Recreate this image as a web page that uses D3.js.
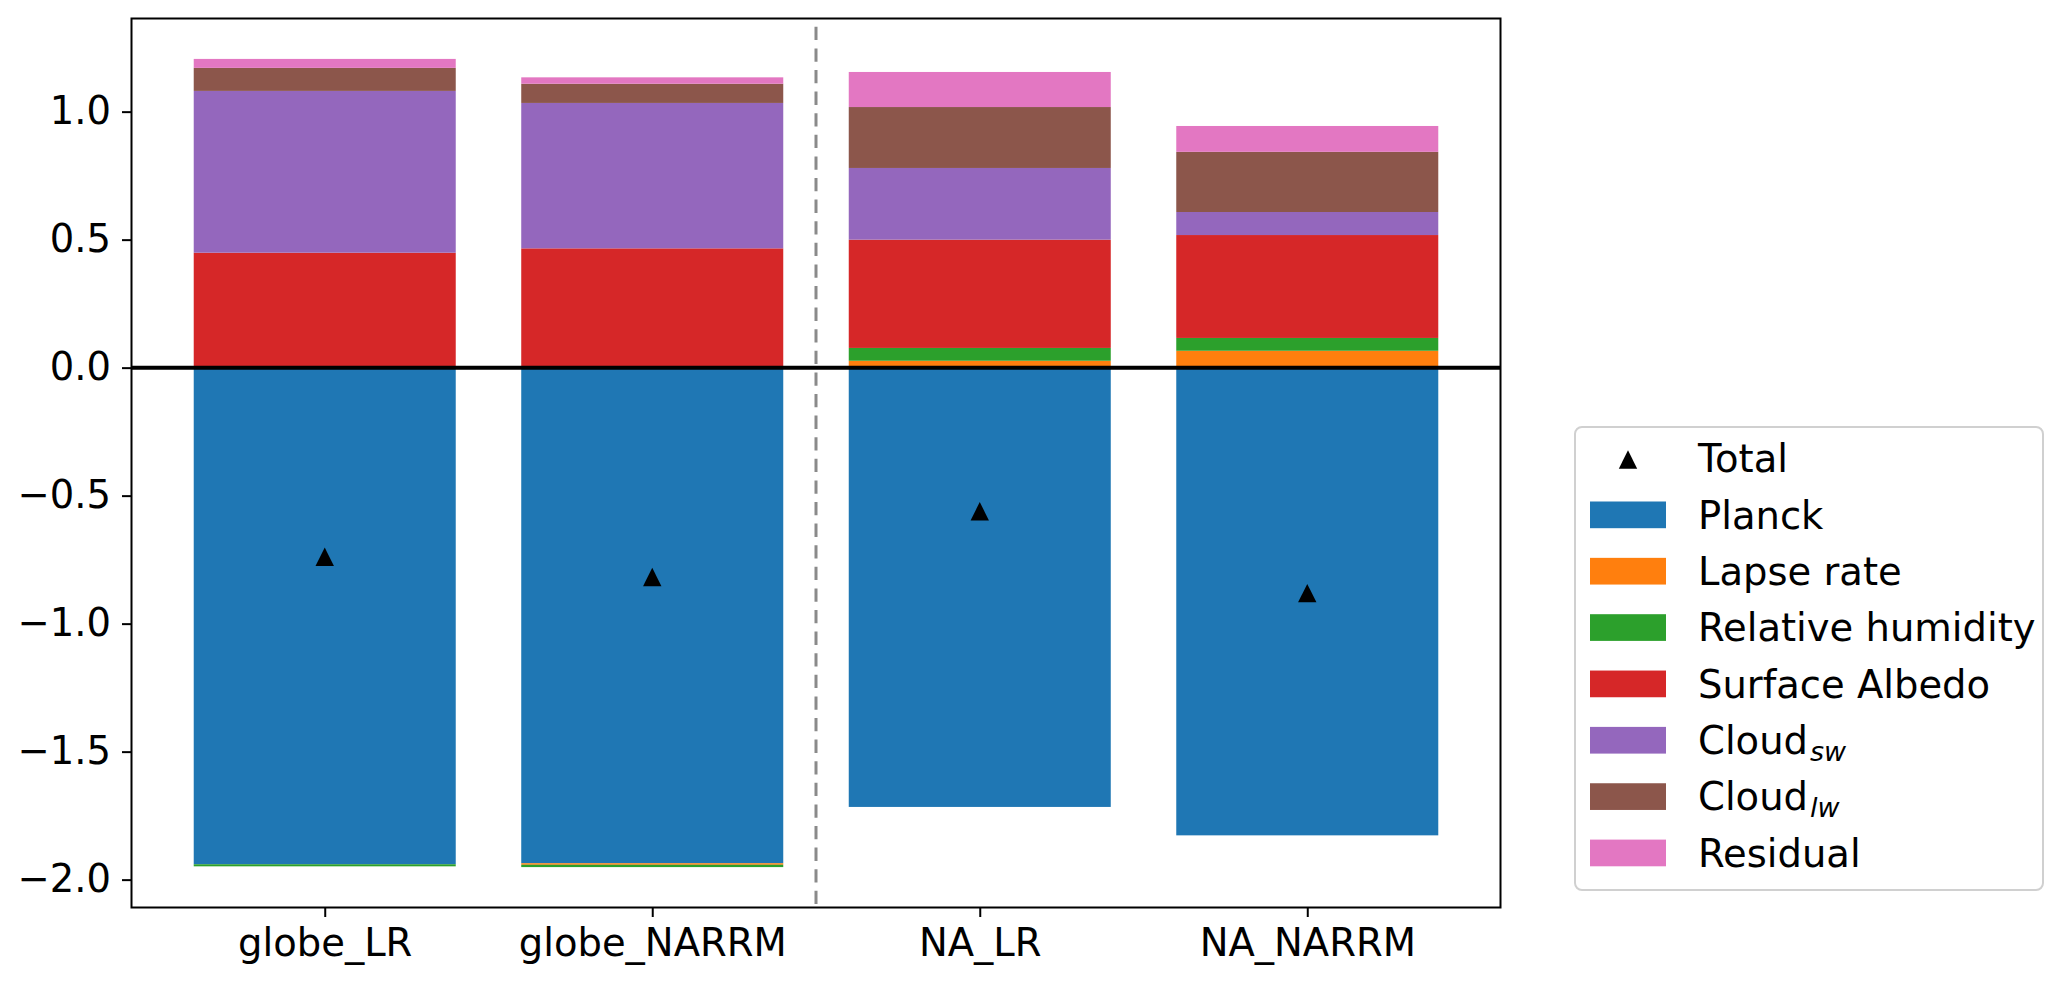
<!DOCTYPE html>
<html>
<head>
<meta charset="utf-8">
<script src="https://cdn.jsdelivr.net/npm/d3@7"></script>
<style>
  html, body { margin: 0; padding: 0; background: #fff; }
  svg { display: block; font-family: "DejaVu Sans", sans-serif; }
</style>
</head>
<body>
<svg id="chart" width="2067" height="986"></svg>
<script>
// ---------------- DATA ----------------
const categories = ["globe_LR", "globe_NARRM", "NA_LR", "NA_NARRM"];
const seriesNames = ["Planck", "Lapse rate", "Relative humidity", "Surface Albedo", "Cloud_sw", "Cloud_lw", "Residual"];
const planck        = [-1.940, -1.936, -1.716, -1.827];
const lapseRate     = [ 0.000, -0.006,  0.027,  0.066];
const relHumidity   = [-0.008, -0.009,  0.050,  0.050];
const surfaceAlbedo = [ 0.449,  0.466,  0.423,  0.402];
const cloudSW       = [ 0.632,  0.568,  0.280,  0.090];
const cloudLW       = [ 0.090,  0.075,  0.238,  0.235];
const residual      = [ 0.035,  0.025,  0.137,  0.101];
const total         = [-0.739, -0.818, -0.561, -0.881];
const yTicks = [-2.0, -1.5, -1.0, -0.5, 0.0, 0.5, 1.0];
const colors = ["#1f77b4", "#ff7f0e", "#2ca02c", "#d62728", "#9467bd", "#8c564b", "#e377c2"];

const seriesValues = [planck, lapseRate, relHumidity, surfaceAlbedo, cloudSW, cloudLW, residual];

// ---------------- LAYOUT ----------------
const W = 2067, H = 986;
const ax = { left: 131.5, right: 1500.5, top: 18.5, bottom: 907.5 };
const FONT = 38.5;
const svg = d3.select("#chart");

// stacked segments: positives up, negatives down
const segments = [];
categories.forEach((c, i) => {
  let pos = 0, neg = 0;
  seriesValues.forEach((arr, s) => {
    const v = arr[i];
    if (v >= 0) { segments.push({ i, s, y0: pos, y1: pos + v }); pos += v; }
    else { segments.push({ i, s, y0: neg, y1: neg + v }); neg += v; }
  });
});
const allY = segments.flatMap(d => [d.y0, d.y1]);
const yMin = d3.min(allY), yMax = d3.max(allY);
const yPad = (yMax - yMin) * 0.05;

const barW = 0.8;
const xPad = (categories.length - 1 + barW) * 0.05;
const x = d3.scaleLinear()
  .domain([-barW / 2 - xPad, categories.length - 1 + barW / 2 + xPad])
  .range([ax.left, ax.right]);
const y = d3.scaleLinear()
  .domain([yMin - yPad, yMax + yPad])
  .range([ax.bottom, ax.top]);

// bars
svg.append("g").selectAll("rect").data(segments).join("rect")
  .attr("x", d => x(d.i - barW / 2))
  .attr("width", d => x(d.i + barW / 2) - x(d.i - barW / 2))
  .attr("y", d => y(Math.max(d.y0, d.y1)))
  .attr("height", d => Math.abs(y(d.y0) - y(d.y1)))
  .attr("fill", d => colors[d.s]);

// dashed separator
svg.append("line")
  .attr("x1", x(1.5)).attr("x2", x(1.5))
  .attr("y1", ax.top).attr("y2", ax.bottom)
  .attr("stroke", "#8a8a8a").attr("stroke-width", 3)
  .attr("stroke-dasharray", "13.3,8.3").attr("stroke-dashoffset", 13.3);

// zero line
svg.append("line")
  .attr("x1", ax.left).attr("x2", ax.right)
  .attr("y1", y(0)).attr("y2", y(0))
  .attr("stroke", "#000").attr("stroke-width", 4);

// total markers
const tri = (cx, cy, r) => {
  const p = d3.path();
  p.moveTo(cx, cy - r); p.lineTo(cx - r, cy + r); p.lineTo(cx + r, cy + r); p.closePath();
  return p.toString();
};
svg.append("g").selectAll("path").data(total).join("path")
  .attr("d", (v, i) => tri(x(i), y(v), 9.2))
  .attr("fill", "#000");

// axes
const yAxis = d3.axisLeft(y).tickValues(yTicks).tickFormat(d3.format(".1f")).tickSize(9.5).tickPadding(11);
const gy = svg.append("g").attr("transform", `translate(${ax.left},0)`).call(yAxis);
const xAxis = d3.axisBottom(x).tickValues(d3.range(categories.length)).tickFormat(i => categories[i]).tickSize(9.5).tickPadding(10);
const gx = svg.append("g").attr("transform", `translate(0,${ax.bottom})`).call(xAxis);
[gx, gy].forEach(g => {
  g.select(".domain").remove();
  g.selectAll(".tick line").attr("stroke", "#000").attr("stroke-width", 2);
  g.selectAll(".tick text").attr("font-size", FONT).attr("font-family", "DejaVu Sans").attr("fill", "#000");
});
gx.selectAll(".tick text").attr("dy", "0.75em");

// frame
svg.append("rect")
  .attr("x", ax.left).attr("y", ax.top)
  .attr("width", ax.right - ax.left).attr("height", ax.bottom - ax.top)
  .attr("fill", "none").attr("stroke", "#000").attr("stroke-width", 2);

// legend
const lg = svg.append("g");
lg.append("rect")
  .attr("x", 1575).attr("y", 427).attr("width", 468).attr("height", 463)
  .attr("rx", 7).attr("fill", "#fff").attr("fill-opacity", 0.8)
  .attr("stroke", "#d0d0d0").attr("stroke-width", 2);
const rowY0 = 458.5, rowStep = 56.35;
const patchX = 1590, patchW = 76, patchH = 26.7, textX = 1698;
lg.append("path").attr("d", tri(patchX + patchW / 2, rowY0 + 1, 9.2)).attr("fill", "#000");
lg.append("text").attr("x", textX).attr("y", rowY0).attr("dy", "0.36em")
  .attr("font-size", FONT).text("Total");
seriesNames.forEach((name, s) => {
  const cy = rowY0 + rowStep * (s + 1);
  lg.append("rect").attr("x", patchX).attr("y", cy - patchH / 2)
    .attr("width", patchW).attr("height", patchH).attr("fill", colors[s]);
  const t = lg.append("text").attr("x", textX).attr("y", cy).attr("dy", "0.36em").attr("font-size", FONT);
  if (name.includes("_")) {
    const [base, sub] = name.split("_");
    t.append("tspan").text(base);
    t.append("tspan").attr("font-size", FONT * 0.7).attr("font-style", "italic")
      .attr("dy", 7).attr("dx", 2).text(sub);
  } else {
    t.text(name);
  }
});
</script>
</body>
</html>
